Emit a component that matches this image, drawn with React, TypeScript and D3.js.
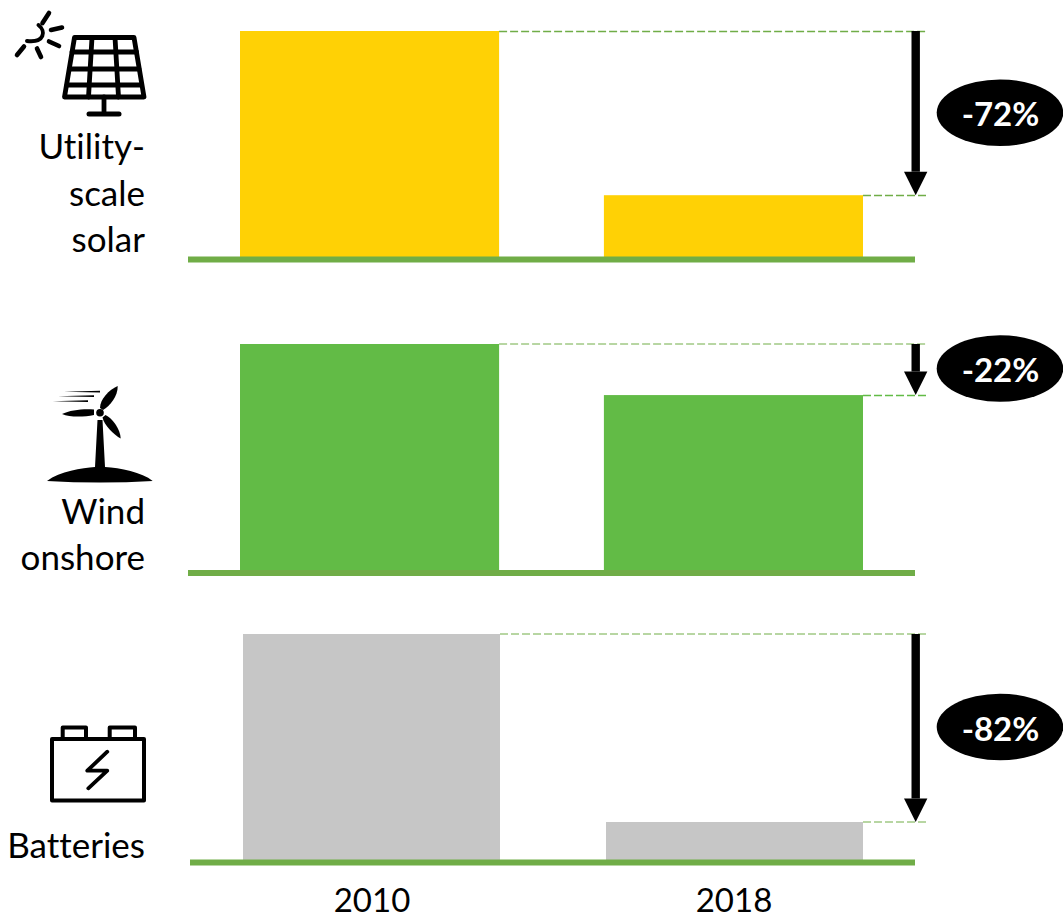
import React from "react";
import * as d3 from "d3";

const years = ["2010", "2018"];
const solarValues = [100, 27.5];
const windValues = [100, 77.5];
const batteryValues = [100, 17];
const changeLabels = ["-72%", "-22%", "-82%"];
const solarLabel = ["Utility-", "scale", "solar"];
const windLabel = ["Wind", "onshore"];
const batteryLabel = ["Batteries"];

const FONT = "Lato, 'Open Sans', sans-serif";
const GREEN = "#70ad47";

type Panel = {
  values: number[]; label: string[]; change: string; color: string;
  top: number; base: number; x0: number; x1: number; inner: number; axisX0: number;
  dash1: string; dash2: string; crisp1: boolean; crisp2: boolean; badgeY: number; labelY: number[];
};

const panels: Panel[] = [
  { values: solarValues, label: solarLabel, change: changeLabels[0], color: "#ffd105", top: 31, base: 257.5, x0: 240, x1: 863, inner: 0.288, axisX0: 188, dash1: GREEN, dash2: GREEN, crisp1: true, crisp2: true, badgeY: 112.7, labelY: [159, 206, 252] },
  { values: windValues, label: windLabel, change: changeLabels[1], color: "#62bb46", top: 344, base: 571, x0: 240, x1: 863, inner: 0.288, axisX0: 188, dash1: GREEN, dash2: "#62bb46", crisp1: false, crisp2: true, badgeY: 368.5, labelY: [524, 570] },
  { values: batteryValues, label: batteryLabel, change: changeLabels[2], color: "#c6c6c6", top: 634, base: 860.5, x0: 243, x1: 863, inner: 0.292, axisX0: 190, dash1: GREEN, dash2: GREEN, crisp1: false, crisp2: false, badgeY: 727, labelY: [858] },
];

const ARROW_X = 915.7;
const AXIS_END = 915;
const DASH_END = 928;
const dashY = (v: number, crisp: boolean) => (crisp ? Math.floor(v) + 0.5 : Math.round(v));

function SolarIcon() {
  const s = { fill: "none", stroke: "#000", strokeWidth: 4.8, strokeLinecap: "round" as const, strokeLinejoin: "round" as const };
  return (
    <g {...s}>
      <path d="M74.5 37.5H134L144 97H64.5Z" />
      <path d="M72 52H136.5M69.5 69H139M67 85H141.5" />
      <path d="M92 37.5L88.5 97M115 37.5L118.5 97" />
      <path d="M104 97V113" />
      <path d="M89 114H119" strokeWidth={5} />
      <path d="M38.5 25C46 31 45 43 27 41" strokeWidth={4} />
      <path d="M42.5 23L49 13M51 30L62 27.5M49 41.5L59 46M37 48.5L41 57M24 46.5L17 55" strokeWidth={4.6} />
    </g>
  );
}

function WindIcon() {
  return (
    <g fill="#000">
      <path d="M47 481C60 471 82 468 95 467L97.5 420H102.5L105 467C120 468 142 472 152.7 481Q100 484 47 481Z" />
      <circle cx="100" cy="412.7" r="3.8" />
      <path d="M100 408C100 399 109 390 117.7 386C118 396 110 406 103 410Z" />
      <path d="M94 409.5C84 408.5 70 410 62 414C70 417.5 84 417 94 415Z" />
      <path d="M102.5 417.5C104 425 114 435 120.7 438.5C120.5 429 112 418 105.5 415Z" />
      <path d="M64 391.7L100 390.8V392.5ZM58 396.2L94 395.3V397ZM52.7 401.2L88 400.3V402Z" />
    </g>
  );
}

function BatteryIcon() {
  return (
    <g fill="none" stroke="#000" strokeWidth={4} strokeLinejoin="round" strokeLinecap="round">
      <rect x="52" y="739" width="92" height="61.5" />
      <path d="M62.7 739V727.5H86V739M109.7 739V727.5H135V739" />
      <path d="M107.3 751.7L87.3 770.7H107.3L88.3 788.3" strokeWidth={3.8} />
    </g>
  );
}

export default function App() {
  return (
    <svg
      width={1063}
      height={915}
      viewBox="0 0 1063 915"
      style={{ position: "absolute", left: 0, top: 0, background: "#fff", fontVariantLigatures: "none" }}
      fontFamily={FONT}
    >
      {panels.map((p) => {
        const x = d3.scaleBand<string>().domain(years).range([p.x0, p.x1]).paddingInner(p.inner).paddingOuter(0);
        const y = d3.scaleLinear().domain([0, 100]).range([p.base, p.top]);
        const right0 = (x(years[0]) as number) + x.bandwidth();
        const right1 = (x(years[1]) as number) + x.bandwidth();
        const y0 = y(p.values[0]);
        const y1 = y(p.values[1]);
        const headTop = y1 - 23.5;
        return (
          <g key={p.change}>
            {years.map((yr, i) => (
              <rect key={yr} x={x(yr)} y={y(p.values[i])} width={x.bandwidth()} height={p.base - y(p.values[i])} fill={p.color} />
            ))}
            <rect x={p.axisX0} y={p.base - 1} width={AXIS_END - p.axisX0} height={6} fill={GREEN} />
            <line x1={right0} x2={DASH_END} y1={dashY(y0, p.crisp1)} y2={dashY(y0, p.crisp1)} stroke={p.dash1} strokeWidth={p.crisp1 ? 1.5 : 1} strokeDasharray="8 3" />
            <line x1={right1} x2={DASH_END} y1={dashY(y1, p.crisp2)} y2={dashY(y1, p.crisp2)} stroke={p.dash2} strokeWidth={p.crisp2 ? 1.5 : 1} strokeDasharray="8 3" />
            <rect x={ARROW_X - 4.2} y={y0} width={8.4} height={headTop - y0} fill="#000" />
            <path d={`M${ARROW_X - 11.7} ${headTop}H${ARROW_X + 11.7}L${ARROW_X} ${y1}Z`} fill="#000" />
            <ellipse cx={1000} cy={p.badgeY} rx={63.3} ry={33.3} fill="#000" />
            <text x={1000.5} y={p.badgeY + 13.5} textAnchor="middle" fontSize={33} fontWeight={700} fill="#fff">{p.change}</text>
            {p.label.map((t, i) => (
              <text key={t} x={145} y={p.labelY[i]} textAnchor="end" fontSize={35} fill="#000">{t}</text>
            ))}
          </g>
        );
      })}
      <SolarIcon />
      <WindIcon />
      <BatteryIcon />
      <text x={372} y={912} textAnchor="middle" fontSize={33} fill="#000">{years[0]}</text>
      <text x={734} y={912} textAnchor="middle" fontSize={33} fill="#000">{years[1]}</text>
    </svg>
  );
}
